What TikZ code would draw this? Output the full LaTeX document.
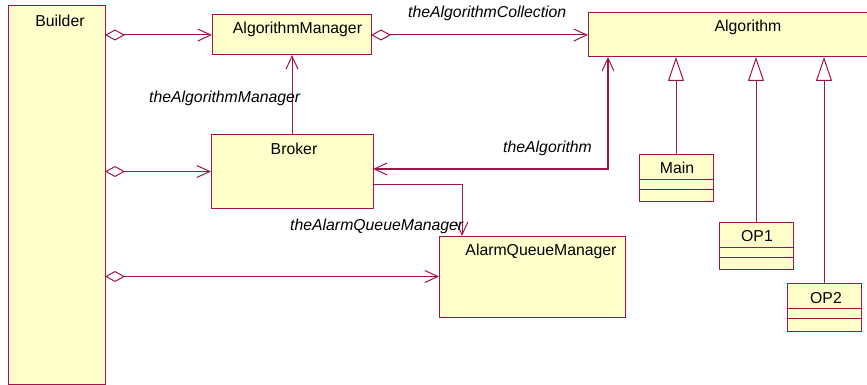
\documentclass[tikz,border=0pt]{standalone}
\usepackage{fontspec}
\setmainfont{Liberation Sans}
\usetikzlibrary{arrows.meta}
\definecolor{umlline}{RGB}{160,20,75}
\definecolor{umlfill}{RGB}{255,255,204}

\begin{document}
\begin{tikzpicture}[x=1pt,y=-1pt,
  box/.style={draw=umlline, fill=umlfill, line width=1pt, rectangle,
    inner sep=0pt, outer sep=0pt, anchor=north west},
  cname/.style={font=\fontsize{15.8}{18}\selectfont, inner sep=0pt, anchor=base},
  role/.style={font=\fontsize{15.8}{18}\selectfont\itshape, inner sep=0pt, anchor=base west},
  conn/.style={draw=umlline, line width=1pt},
  nav/.style={conn, -{Straight Barb[length=13pt,width=12pt]}},
  bidir/.style={conn, line width=1.5pt,
    {Straight Barb[length=13pt,width=12pt,line width=1pt]}-{Straight Barb[length=13pt,width=12pt,line width=1pt]}},
  agg/.style={conn, {Diamond[open,length=20pt,width=11pt]}-{Straight Barb[length=13pt,width=12pt]}},
  gen/.style={conn, -{Triangle[open,length=24pt,width=16pt]}},
]
\useasboundingbox (0,0) rectangle (867,385);
\clip (0,0) rectangle (867,385);

% classes
\node[box, minimum width=97pt,  minimum height=378pt] (builder) at (8,6) {};
\node[box, minimum width=159pt, minimum height=40pt]  (am)      at (212,15) {};
\node[box, minimum width=320pt, minimum height=44pt]  (alg)     at (588,13) {};
\node[box, minimum width=162pt, minimum height=73pt]  (broker)  at (211,135) {};
\node[box, minimum width=186pt, minimum height=81pt]  (aqm)     at (439,236) {};
\node[box, minimum width=74pt,  minimum height=47pt]  (main)    at (639,154) {};
\node[box, minimum width=74pt,  minimum height=47pt]  (op1)     at (719,222) {};
\node[box, minimum width=74pt,  minimum height=48pt]  (op2)     at (787,283) {};

% attribute / operation compartments
\foreach \c in {main,op1,op2}{
  \draw[conn] ([yshift=-25.5pt]\c.north west) -- ([yshift=-25.5pt]\c.north east);
  \draw[conn] ([yshift=-35pt]\c.north west) -- ([yshift=-35pt]\c.north east);
}

% class names
\node[cname] (builder-t) at (60,27)  {Builder};
\node[cname] (am-t)      at (297.5,34) {AlgorithmManager};
\node[cname] (alg-t)     at (748,32) {Algorithm};
\node[cname] (broker-t)  at (294,154) {Broker};
\node[cname] (aqm-t)     at (541,255) {AlarmQueueManager};
\node[cname] (main-t)    at (677,173) {Main};
\node[cname] (op1-t)     at (757,241) {OP1};
\node[cname] (op2-t)     at (826,303) {OP2};

% aggregations from Builder
\draw[agg] (builder.east |- am.west) -- (am.west);
\draw[agg] (builder.east |- broker.west) -- (broker.west);
\draw[agg] (builder.east |- aqm.west) -- (aqm.west);
\draw[agg] (am.east) -- (alg.west |- am.east);

% associations
\draw[nav] (broker.north) -- (broker.north |- am.south);
\coordinate (ab) at (608,169);
\draw[bidir] (broker.east |- ab) -- (ab) -- (ab |- alg.south);
\coordinate (bq) at (462,184);
\draw[nav] (broker.east |- bq) -- (bq) -- (bq |- aqm.north);

% generalizations
\draw[gen] (main.north) -- (main.north |- alg.south);
\draw[gen] (op1.north) -- (op1.north |- alg.south);
\draw[gen] (op2.north) -- (op2.north |- alg.south);

% role names
\node[role] (r-coll)  at (408,18)  {theAlgorithmCollection};
\node[role] (r-mgr)   at (149,103) {theAlgorithmManager};
\node[role] (r-alg)   at (503,153) {theAlgorithm};
\node[role] (r-alarm) at (290,230) {theAlarmQueueManager};
\end{tikzpicture}
\end{document}
